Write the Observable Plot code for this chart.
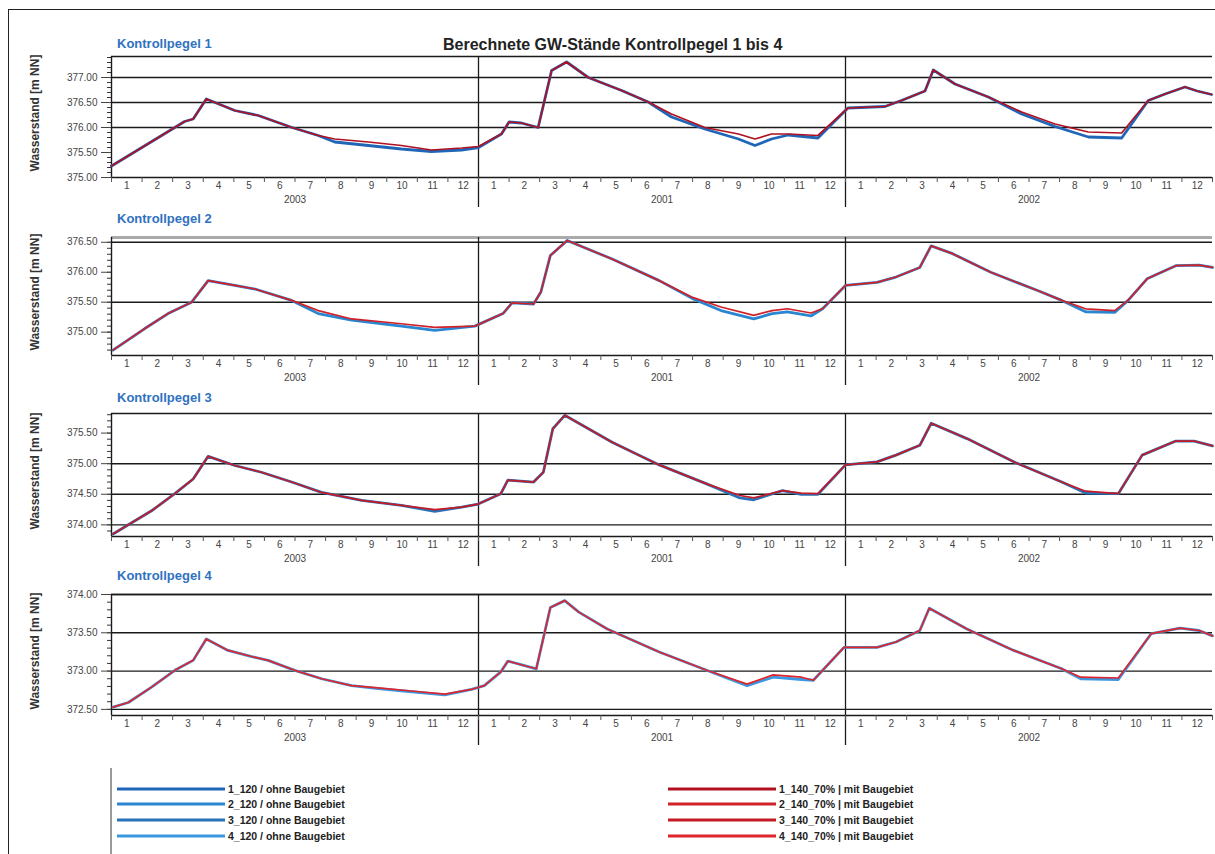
<!DOCTYPE html>
<html>
<head>
<meta charset="utf-8">
<script src="https://cdn.jsdelivr.net/npm/d3@7"></script>
<script src="https://cdn.jsdelivr.net/npm/@observablehq/plot@0.6"></script>
<style>
  body { margin: 0; background: #fff; font-family: "Liberation Sans", Arial, sans-serif; }
  #wrap { position: relative; width: 1215px; height: 854px; overflow: hidden; background: #fff; }
  .abs { position: absolute; }
  .ptitle { font-weight: bold; font-size: 13px; color: #2f72bf; white-space: nowrap; transform: translateY(-50%); }
  .ylab { font-weight: bold; font-size: 12px; color: #333; white-space: nowrap; transform: translate(-50%, -50%) rotate(-90deg); }
  .leg { font-weight: bold; font-size: 10.5px; color: #222; white-space: nowrap; transform: translateY(-50%); }
  .legline { height: 3px; transform: translateY(-50%); }
</style>
</head>
<body>
<div id="wrap"></div>
<script>
// ---------- labels ----------
const chartTitle = "Berechnete GW-Stände Kontrollpegel 1 bis 4";
const panelTitles = ["Kontrollpegel 1", "Kontrollpegel 2", "Kontrollpegel 3", "Kontrollpegel 4"];
const yTitle = "Wasserstand [m NN]";
const months = ["1","2","3","4","5","6","7","8","9","10","11","12"];
const years = ["2003", "2001", "2002"];
const ohneLabels = ["1_120 / ohne Baugebiet", "2_120 / ohne Baugebiet", "3_120 / ohne Baugebiet", "4_120 / ohne Baugebiet"];
const mitLabels = ["1_140_70% | mit Baugebiet", "2_140_70% | mit Baugebiet", "3_140_70% | mit Baugebiet", "4_140_70% | mit Baugebiet"];
const ohneColors = ["#1f66b8", "#2a86d0", "#2a72b8", "#3a98e0"];
const mitColors = ["#b01020", "#d02028", "#c41a26", "#e0242c"];

// ---------- data (t = months since start of first shown year) ----------
const p1T    = [0.0, 1.64, 2.39, 2.67, 3.1, 4.03, 4.8, 5.9, 6.76, 7.3, 8.4, 9.48, 10.46, 11.45, 12.0, 12.75, 13.0, 13.4, 13.95, 14.39, 14.88, 15.59, 16.68, 17.55, 18.31, 19.4, 20.5, 21.04, 21.58, 22.13, 23.1, 24.08, 25.29, 25.83, 26.6, 26.87, 27.58, 28.67, 29.76, 30.85, 31.94, 33.03, 33.9, 34.45, 35.1, 35.5, 35.97];
const p1Ohne = [375.23, 375.84, 376.12, 376.17, 376.57, 376.34, 376.24, 376.00, 375.84, 375.71, 375.64, 375.57, 375.52, 375.55, 375.60, 375.87, 376.11, 376.09, 376.00, 377.14, 377.31, 377.00, 376.74, 376.51, 376.21, 375.97, 375.77, 375.64, 375.77, 375.85, 375.79, 376.39, 376.42, 376.54, 376.73, 377.15, 376.87, 376.61, 376.27, 376.02, 375.81, 375.79, 376.54, 376.67, 376.81, 376.73, 376.66];
const p1Mit  = [375.23, 375.84, 376.12, 376.17, 376.57, 376.34, 376.24, 376.00, 375.84, 375.77, 375.71, 375.64, 375.55, 375.59, 375.62, 375.87, 376.11, 376.09, 376.00, 377.14, 377.31, 377.00, 376.74, 376.51, 376.27, 376.00, 375.87, 375.77, 375.87, 375.87, 375.84, 376.39, 376.42, 376.54, 376.73, 377.15, 376.87, 376.61, 376.31, 376.07, 375.91, 375.89, 376.54, 376.67, 376.81, 376.73, 376.66];

const p2T    = [0.05, 1.09, 1.85, 2.62, 3.16, 4.03, 4.69, 5.89, 6.76, 7.85, 9.48, 10.57, 11.88, 12.8, 13.1, 13.8, 14.04, 14.35, 14.9, 16.37, 17.91, 19.0, 19.93, 21.0, 21.6, 22.1, 22.87, 23.25, 24.0, 25.03, 25.65, 26.43, 26.8, 27.5, 28.75, 30.3, 31.07, 31.85, 32.8, 33.24, 33.86, 34.8, 35.56, 36.0];
const p2Ohne = [374.70, 375.06, 375.31, 375.50, 375.86, 375.78, 375.72, 375.53, 375.31, 375.20, 375.10, 375.03, 375.10, 375.31, 375.49, 375.47, 375.67, 376.28, 376.53, 376.22, 375.86, 375.56, 375.36, 375.22, 375.31, 375.34, 375.27, 375.39, 375.78, 375.83, 375.92, 376.08, 376.44, 376.31, 376.00, 375.69, 375.53, 375.34, 375.33, 375.53, 375.89, 376.11, 376.12, 376.08];
const p2Mit  = [374.70, 375.06, 375.31, 375.50, 375.86, 375.78, 375.72, 375.53, 375.36, 375.22, 375.14, 375.08, 375.10, 375.31, 375.49, 375.47, 375.67, 376.28, 376.53, 376.22, 375.86, 375.58, 375.42, 375.28, 375.36, 375.39, 375.32, 375.39, 375.78, 375.83, 375.92, 376.08, 376.44, 376.31, 376.00, 375.69, 375.53, 375.39, 375.36, 375.53, 375.89, 376.11, 376.12, 376.08];

const p3T    = [0.05, 1.31, 2.07, 2.67, 3.16, 4.03, 4.9, 5.89, 6.87, 8.18, 9.48, 10.57, 11.45, 11.99, 12.73, 12.96, 13.8, 14.12, 14.43, 14.82, 16.37, 17.91, 19.46, 20.55, 21.0, 21.94, 22.55, 23.1, 24.0, 25.03, 25.65, 26.43, 26.8, 27.97, 29.5, 31.07, 31.85, 32.92, 33.7, 34.8, 35.4, 36.0];
const p3Ohne = [373.85, 374.23, 374.51, 374.75, 375.12, 374.97, 374.86, 374.70, 374.53, 374.40, 374.32, 374.22, 374.29, 374.34, 374.51, 374.73, 374.70, 374.86, 375.57, 375.79, 375.35, 374.98, 374.67, 374.44, 374.41, 374.56, 374.50, 374.50, 374.98, 375.03, 375.14, 375.30, 375.66, 375.41, 375.03, 374.70, 374.52, 374.51, 375.14, 375.37, 375.37, 375.29];
const p3Mit  = [373.85, 374.23, 374.51, 374.75, 375.12, 374.97, 374.86, 374.70, 374.53, 374.40, 374.32, 374.25, 374.29, 374.34, 374.51, 374.73, 374.70, 374.86, 375.57, 375.79, 375.35, 374.98, 374.67, 374.48, 374.44, 374.56, 374.52, 374.51, 374.98, 375.03, 375.14, 375.30, 375.66, 375.41, 375.03, 374.70, 374.55, 374.51, 375.14, 375.37, 375.37, 375.29];

const p4T    = [0.05, 0.55, 1.31, 2.07, 2.67, 3.1, 3.81, 4.58, 5.12, 5.99, 6.87, 7.85, 8.72, 9.81, 10.9, 11.77, 12.19, 12.73, 12.96, 13.42, 13.89, 14.35, 14.82, 15.28, 16.21, 17.91, 19.46, 20.78, 21.63, 22.56, 22.95, 23.95, 25.03, 25.65, 26.43, 26.74, 27.97, 29.5, 31.07, 31.69, 32.92, 34.0, 34.94, 35.56, 36.0];
const p4Ohne = [372.53, 372.59, 372.79, 373.01, 373.14, 373.42, 373.27, 373.19, 373.14, 373.01, 372.90, 372.81, 372.77, 372.73, 372.69, 372.76, 372.81, 372.99, 373.13, 373.08, 373.03, 373.83, 373.92, 373.77, 373.55, 373.25, 373.01, 372.81, 372.92, 372.89, 372.88, 373.31, 373.31, 373.38, 373.53, 373.82, 373.55, 373.27, 373.03, 372.90, 372.89, 373.49, 373.56, 373.53, 373.46];
const p4Mit  = [372.53, 372.59, 372.79, 373.01, 373.14, 373.42, 373.27, 373.19, 373.14, 373.01, 372.90, 372.81, 372.78, 372.74, 372.70, 372.76, 372.81, 372.99, 373.13, 373.08, 373.03, 373.83, 373.92, 373.77, 373.55, 373.25, 373.01, 372.83, 372.95, 372.92, 372.88, 373.31, 373.31, 373.38, 373.53, 373.82, 373.55, 373.27, 373.03, 372.92, 372.91, 373.49, 373.56, 373.53, 373.46];

// y-axis setup per panel
const yDomains   = [[375.0, 377.42], [374.61, 376.58], [373.81, 375.82], [372.42, 374.0]];
const yMajor     = [[375.0, 375.5, 376.0, 376.5, 377.0], [375.0, 375.5, 376.0, 376.5], [374.0, 374.5, 375.0, 375.5], [372.5, 373.0, 373.5, 374.0]];
const yGrid      = [[376.0, 376.5, 377.0], [375.5, 376.5], [374.0, 374.5, 375.0], [372.5, 373.0, 373.5, 374.0]];
const yearBreaks = [12, 24];

// layout: plot top / bottom (page px), titles
const plotTop    = [56, 237, 413, 594];
const plotBottom = [177, 355, 536, 715];
const titleY     = [43, 218, 397, 575];

const wrap = document.getElementById("wrap");
function addDiv(cls, text, style) {
  const d = document.createElement("div");
  d.className = "abs " + cls;
  d.textContent = text;
  Object.assign(d.style, style);
  wrap.appendChild(d);
  return d;
}

// outer border (left and top edges visible)
addDiv("", "", {left: "8px", top: "9px", width: "1240px", height: "860px", borderLeft: "1px solid #222", borderTop: "1px solid #222"});

// main title
addDiv("", chartTitle, {left: "443px", top: "36px", fontWeight: "bold", fontSize: "16px", color: "#222", whiteSpace: "nowrap"});

const series = [[p1T, p1Ohne, p1Mit], [p2T, p2Ohne, p2Mit], [p3T, p3Ohne, p3Mit], [p4T, p4Ohne, p4Mit]];

const monthCenters = d3.range(36).map(i => i + 0.5);
const monthBounds = d3.range(37);
const yearCenters = years.map((y, i) => ({label: y, t: i * 12 + 6}));

series.forEach(([T, ohne, mit], k) => {
  const mTop = 4, mBottom = 34;
  const h = plotBottom[k] - plotTop[k];
  const [y0, y1] = yDomains[k];
  const minor = d3.range(Math.ceil(y0 * 10), Math.floor(y1 * 10) + 1).map(v => v / 10);
  const ohneData = T.map((t, i) => ({t, v: ohne[i]}));
  const mitData = T.map((t, i) => ({t, v: mit[i]}));
  const svg = Plot.plot({
    width: 1215,
    height: h + mTop + mBottom,
    marginLeft: 111, marginRight: 3, marginTop: mTop, marginBottom: mBottom,
    style: {fontFamily: "'Liberation Sans', Arial, sans-serif", fontSize: "10px", color: "#444", background: "transparent", overflow: "visible"},
    x: {domain: [0, 36], axis: null},
    y: {domain: yDomains[k], axis: null},
    marks: [
      Plot.ruleY(yGrid[k], {stroke: "#1a1a1a", strokeWidth: 1.4}),
      Plot.ruleY([y1], {stroke: k === 1 ? "#aaa" : "#1a1a1a", strokeWidth: k === 1 ? 3 : 1.4}),
      Plot.ruleY([y0], {stroke: "#1a1a1a", strokeWidth: 1.6}),
      Plot.ruleX([0], {stroke: "#1a1a1a", strokeWidth: 1.4}),
      Plot.ruleX(yearBreaks, {stroke: "#1a1a1a", strokeWidth: 1.3, insetBottom: -30}),
      Plot.axisY({ticks: minor, tickSize: 4, tickFormat: () => "", stroke: "#333", label: null}),
      Plot.axisY({ticks: yMajor[k], tickSize: 10, tickPadding: 4, tickFormat: d => d.toFixed(2), fill: "#444", label: null}),
      Plot.axisX({ticks: monthBounds, tickSize: 5, tickFormat: () => "", stroke: "#555", label: null}),
      Plot.axisX({ticks: monthCenters, tickSize: 0, tickPadding: 4, tickFormat: d => months[Math.floor(d) % 12], fill: "#444", label: null}),
      Plot.text(yearCenters, {x: "t", text: "label", frameAnchor: "bottom", dy: 25, fill: "#444", fontSize: 10}),
      Plot.line(ohneData, {x: "t", y: "v", stroke: ohneColors[k], strokeWidth: 2.8}),
      Plot.line(mitData, {x: "t", y: "v", stroke: mitColors[k], strokeWidth: 1.7})
    ]
  });
  svg.style.position = "absolute";
  svg.style.left = "0px";
  svg.style.top = (plotTop[k] - mTop) + "px";
  wrap.appendChild(svg);

  addDiv("ptitle", panelTitles[k], {left: "117px", top: titleY[k] + "px"});
  addDiv("ylab", yTitle, {left: "35px", top: ((plotTop[k] + plotBottom[k]) / 2 - 4) + "px"});
});

// legend
addDiv("", "", {left: "110px", top: "768px", width: "0px", height: "90px", borderLeft: "2px solid #999"});
const legY = [789, 804, 820, 836];
legY.forEach((y, i) => {
  addDiv("legline", "", {left: "117px", top: y + "px", width: "108px", background: ohneColors[i]});
  addDiv("leg", ohneLabels[i], {left: "228px", top: y + "px"});
  addDiv("legline", "", {left: "668px", top: y + "px", width: "108px", background: mitColors[i]});
  addDiv("leg", mitLabels[i], {left: "779px", top: y + "px"});
});
</script>
</body>
</html>
